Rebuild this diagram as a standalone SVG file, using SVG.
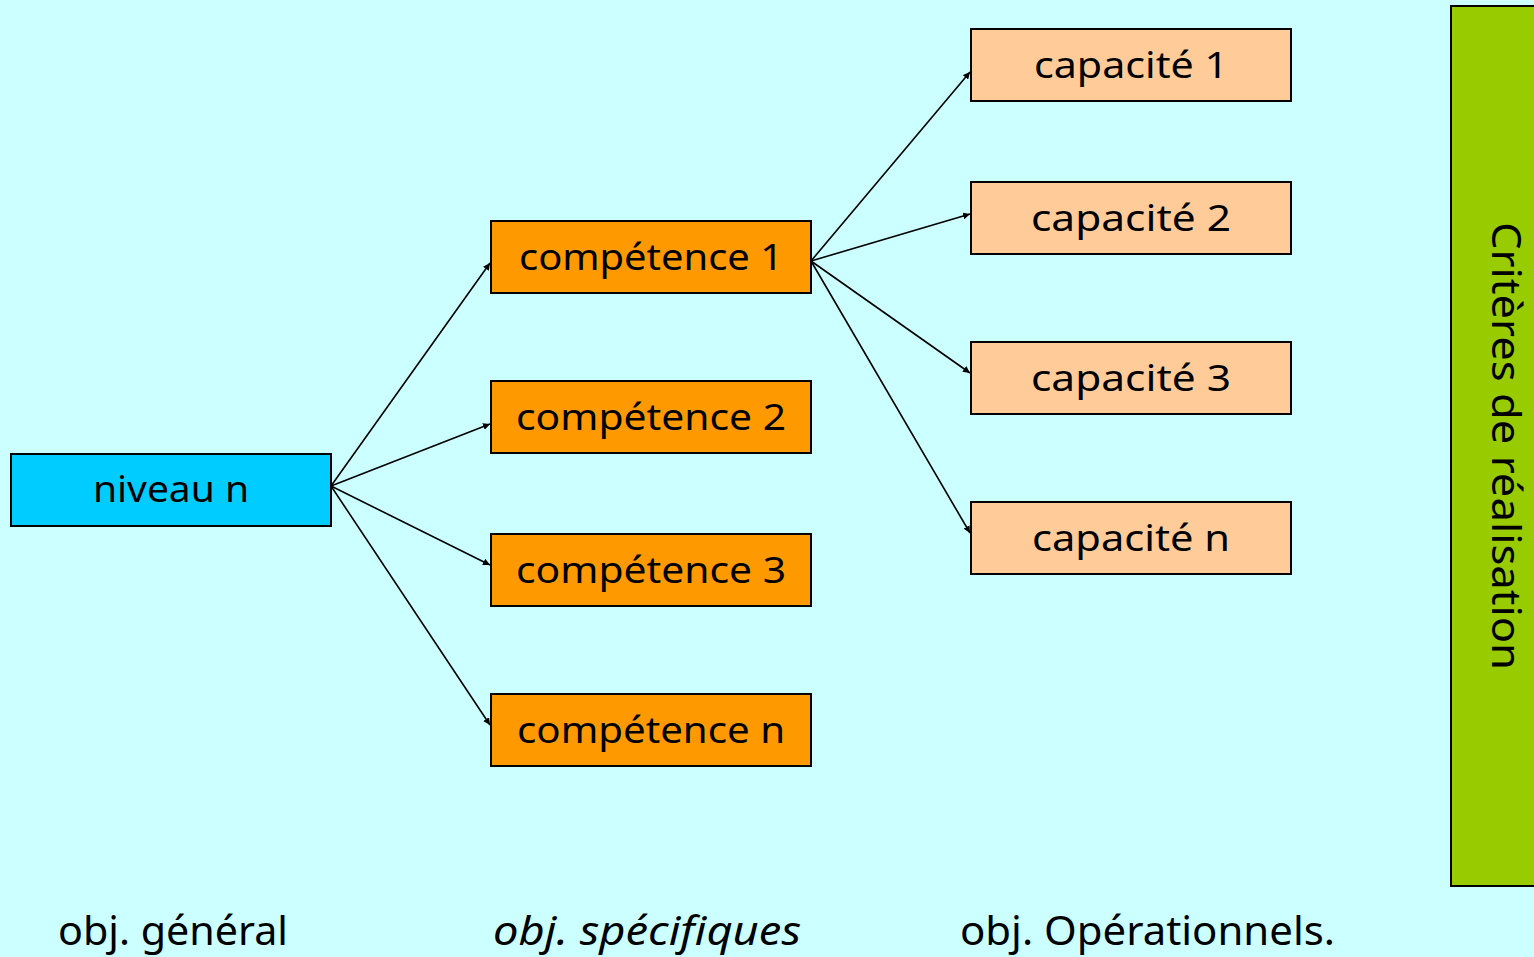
<svg xmlns="http://www.w3.org/2000/svg" width="1534" height="957" viewBox="0 0 1534 957">
<style>
.box{stroke:#000;stroke-width:2}
.t{font-family:"Noto Sans","DejaVu Sans",sans-serif;font-size:36px;fill:#000;text-anchor:middle}
.lbl{font-family:"Noto Sans","DejaVu Sans",sans-serif;font-size:40px;fill:#000}
.c line{stroke:#000;stroke-width:1.6;marker-end:url(#ah)}
</style>
<defs>
<marker id="ah" viewBox="0 0 10 10" refX="10" refY="5" markerWidth="7" markerHeight="7" markerUnits="userSpaceOnUse" orient="auto">
<path d="M0,0 L10,5 L0,10 z" fill="#000"/>
</marker>
</defs>
<rect width="1534" height="957" fill="#CCFFFF"/>
<g id="criteres">
<rect x="1451" y="6" width="92" height="880" fill="#99CC00" class="box"/>
<text class="lbl" transform="translate(1492,446) rotate(90)" text-anchor="middle" textLength="448" lengthAdjust="spacingAndGlyphs">Critères de réalisation</text>
</g>
<g class="c" id="connectors">
<line x1="331" y1="486" x2="490" y2="263"/>
<line x1="331" y1="486" x2="490" y2="424"/>
<line x1="331" y1="486" x2="490" y2="565"/>
<line x1="331" y1="486" x2="490" y2="725"/>
<line x1="811" y1="261" x2="970" y2="72"/>
<line x1="811" y1="261" x2="970" y2="214"/>
<line x1="811" y1="261" x2="970" y2="373"/>
<line x1="811" y1="261" x2="970" y2="533"/>
</g>
<g id="niveau"><rect x="11" y="454" width="320" height="72" fill="#00CCFF" class="box"/><text class="t" x="171" y="502" textLength="156" lengthAdjust="spacingAndGlyphs">niveau n</text></g>
<g id="comp1"><rect x="491" y="221" width="320" height="72" fill="#FF9900" class="box"/><text class="t" x="651" y="270" textLength="264" lengthAdjust="spacingAndGlyphs">compétence 1</text></g>
<g id="comp2"><rect x="491" y="381" width="320" height="72" fill="#FF9900" class="box"/><text class="t" x="651" y="430" textLength="270" lengthAdjust="spacingAndGlyphs">compétence 2</text></g>
<g id="comp3"><rect x="491" y="534" width="320" height="72" fill="#FF9900" class="box"/><text class="t" x="651" y="583" textLength="270" lengthAdjust="spacingAndGlyphs">compétence 3</text></g>
<g id="compn"><rect x="491" y="694" width="320" height="72" fill="#FF9900" class="box"/><text class="t" x="651" y="743" textLength="268" lengthAdjust="spacingAndGlyphs">compétence n</text></g>
<g id="cap1"><rect x="971" y="29" width="320" height="72" fill="#FFCC99" class="box"/><text class="t" x="1131" y="78" textLength="194" lengthAdjust="spacingAndGlyphs">capacité 1</text></g>
<g id="cap2"><rect x="971" y="182" width="320" height="72" fill="#FFCC99" class="box"/><text class="t" x="1131" y="231" textLength="200" lengthAdjust="spacingAndGlyphs">capacité 2</text></g>
<g id="cap3"><rect x="971" y="342" width="320" height="72" fill="#FFCC99" class="box"/><text class="t" x="1131" y="391" textLength="200" lengthAdjust="spacingAndGlyphs">capacité 3</text></g>
<g id="capn"><rect x="971" y="502" width="320" height="72" fill="#FFCC99" class="box"/><text class="t" x="1131" y="551" textLength="198" lengthAdjust="spacingAndGlyphs">capacité n</text></g>
<g id="labels">
<text class="lbl" x="58" y="945" textLength="230" lengthAdjust="spacingAndGlyphs">obj. général</text>
<text class="lbl" x="493" y="945" font-style="italic" textLength="308" lengthAdjust="spacingAndGlyphs">obj. spécifiques</text>
<text class="lbl" x="960" y="945" textLength="375" lengthAdjust="spacingAndGlyphs">obj. Opérationnels.</text>
</g>
</svg>
